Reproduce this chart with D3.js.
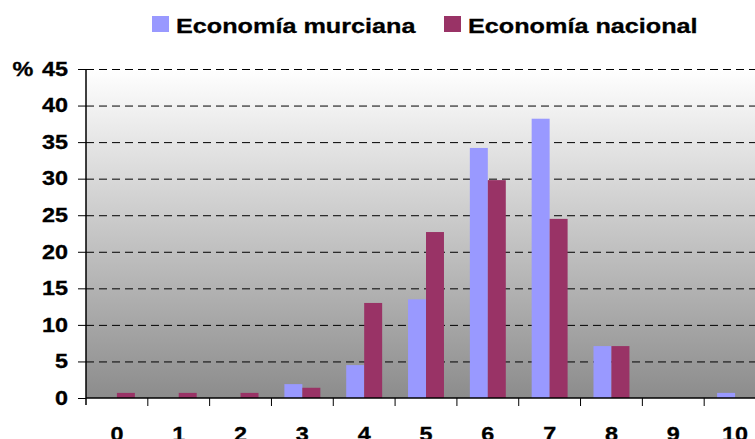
<!DOCTYPE html>
<html><head><meta charset="utf-8">
<script src="https://cdn.jsdelivr.net/npm/d3@7"></script>
<style>body{margin:0;background:#fff}svg{display:block}text{font-family:"Liberation Sans",Arial,sans-serif;font-weight:bold;fill:#000}</style>
</head><body>
<svg id="c" width="755" height="439"></svg>
<script>
const categories = ["0","1","2","3","4","5","6","7","8","9","10"];
const seriesNames = ["Economía murciana","Economía nacional"];
const murciana = [0,0,0,1.9,4.5,13.5,34.2,38.2,7.1,0,0.7];
const nacional = [0.7,0.7,0.7,1.4,13.0,22.7,29.8,24.5,7.1,0,0];
const yTicks = [0,5,10,15,20,25,30,35,40,45];
const colors = ["#9999ff","#993366"];

(function(){
const svg = d3.select("#c");
const pL = 86, pR = 766, pT = 69, pB = 398;
const SX = 1.2;
const x = d3.scaleBand().domain(categories).range([pL,pR]).paddingInner(0).paddingOuter(0);
const x1 = d3.scaleBand().domain([0,1]).range([0,x.bandwidth()]).paddingOuter(0.72).paddingInner(0);
const y = d3.scaleLinear().domain([0,45]).range([pB,pT]);

const defs = svg.append("defs");
const g = defs.append("linearGradient").attr("id","bg").attr("x1",0).attr("y1",0).attr("x2",0).attr("y2",1);
g.append("stop").attr("offset","0%").attr("stop-color","#ffffff");
g.append("stop").attr("offset","100%").attr("stop-color","#8c8c8c");
svg.append("rect").attr("x",pL).attr("y",pT).attr("width",pR-pL).attr("height",pB-pT).attr("fill","url(#bg)");

svg.append("g").selectAll("line").data(yTicks.filter(d=>d>0)).join("line")
  .attr("x1",pL).attr("x2",pR).attr("y1",d=>y(d)+0.5).attr("y2",d=>y(d)+0.5)
  .attr("stroke","#000").attr("stroke-width",1).attr("stroke-dasharray","8,5");

const data = categories.map((c,i)=>({c, v:[murciana[i],nacional[i]]}));
const grp = svg.append("g").selectAll("g").data(data).join("g").attr("transform",d=>`translate(${x(d.c)},0)`);
grp.selectAll("rect").data(d=>d.v.map((v,k)=>({v,k}))).join("rect")
  .attr("x",d=>x1(d.k)).attr("width",x1.bandwidth())
  .attr("y",d=>y(d.v)).attr("height",d=>pB-y(d.v))
  .attr("fill",d=>colors[d.k]);

const ya = svg.append("g").attr("transform",`translate(${pL},0)`)
  .call(d3.axisLeft(y).tickValues(yTicks).tickSize(8).tickPadding(6).tickFormat(d3.format("d")));
ya.select(".domain").attr("stroke","#000").attr("stroke-width",1.5).attr("d",`M0,${pT}V${pB+7}`);
ya.selectAll(".tick line").attr("stroke","#000");
ya.selectAll("text").style("font-size","19.5px").style("font-family","'Liberation Sans',Arial,sans-serif").style("font-weight","bold").attr("fill","#000")
  .attr("stroke","#000").attr("stroke-width",0.3)
  .attr("x",-18/SX).attr("transform",`scale(${SX},1)`);
svg.append("text").attr("transform",`translate(23,${y(45)}) scale(${SX},1)`).attr("dy","0.35em").attr("text-anchor","middle")
  .attr("stroke","#000").attr("stroke-width",0.3).style("font-size","19.5px").text("%");

const xa = svg.append("g").attr("transform",`translate(0,${pB})`)
  .call(d3.axisBottom(x).tickSize(0).tickPadding(29));
xa.select(".domain").attr("stroke","#000").attr("stroke-width",1.5).attr("d",`M${pL},0H${pR}`);
xa.selectAll("text").style("font-size","19.5px").style("font-family","'Liberation Sans',Arial,sans-serif").style("font-weight","bold").attr("fill","#000")
  .attr("stroke","#000").attr("stroke-width",0.3)
  .attr("transform",`scale(${SX},1)`);
xa.append("g").selectAll("line").data(categories).join("line")
  .attr("x1",d=>x(d)+x.bandwidth()).attr("x2",d=>x(d)+x.bandwidth()).attr("y1",0).attr("y2",8).attr("stroke","#000");

const leg = svg.append("g");
const lx = [152, 444];
seriesNames.forEach((n,i)=>{
  leg.append("rect").attr("x",lx[i]).attr("y",16).attr("width",17).attr("height",16).attr("fill",colors[i]);
  leg.append("text").attr("transform",`translate(${lx[i]+24},32.5) scale(${SX},1)`)
    .attr("stroke","#000").attr("stroke-width",0.3).style("font-size","21px").text(n);
});
})();
</script>
</body></html>
